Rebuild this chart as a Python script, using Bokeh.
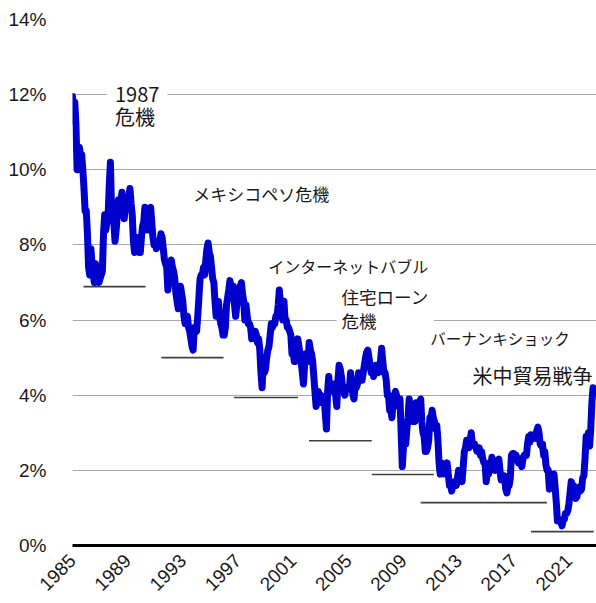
import numpy as np
from bokeh.plotting import figure
from bokeh.models import FixedTicker, Label, ColumnDataSource
from bokeh.embed import file_html
from bokeh.resources import INLINE

# ---- data (US 10-year yield, monthly, %) ----
start_year = 1985
yield_1985_1994 = [
    11.95, 11.3, 11.8, 11.2, 10.0, 10.3, 10.6, 10.4, 10.4, 10.0, 9.5, 8.9,
    8.9, 8.3, 7.4, 7.2, 7.9, 7.5, 7.2, 7.0, 7.5, 7.3, 7.1, 7.0,
    7.1, 7.2, 7.3, 8.3, 8.8, 8.4, 8.6, 8.8, 9.6, 10.2, 8.9, 9.0,
    8.6, 8.1, 8.4, 8.8, 9.2, 8.9, 9.1, 9.4, 9.0, 8.7, 9.0, 9.1,
    9.1, 9.3, 9.5, 9.1, 8.8, 8.1, 7.8, 8.2, 8.2, 7.9, 7.8, 7.8,
    8.2, 8.5, 8.6, 9.0, 8.6, 8.4, 8.4, 8.9, 9.0, 8.6, 8.2, 8.0,
    8.1, 7.9, 8.1, 8.0, 8.1, 8.3, 8.2, 7.9, 7.6, 7.5, 7.4, 6.8,
    7.1, 7.3, 7.6, 7.4, 7.3, 7.1, 6.7, 6.5, 6.3, 6.7, 6.9, 6.7,
    6.5, 6.1, 5.9, 5.9, 6.1, 5.8, 5.7, 5.5, 5.3, 5.2, 5.8, 5.8,
    5.7, 6.1, 6.6, 7.1, 7.2, 7.2, 7.4, 7.2, 7.6, 7.9, 8.05, 7.8,
]
yield_1995_2004 = [
    7.7, 7.4, 7.1, 7.0, 6.5, 6.1, 6.4, 6.5, 6.1, 5.9, 5.8, 5.6,
    5.6, 5.8, 6.4, 6.6, 6.8, 7.05, 6.9, 6.6, 6.9, 6.4, 6.1, 6.4,
    6.6, 6.5, 6.9, 7.0, 6.7, 6.5, 6.0, 6.4, 6.1, 5.9, 5.9, 5.8,
    5.5, 5.6, 5.6, 5.7, 5.6, 5.4, 5.5, 5.2, 4.6, 4.2, 4.9, 4.6,
    4.7, 5.0, 5.2, 5.3, 5.6, 5.9, 5.8, 5.9, 5.9, 6.1, 6.1, 6.4,
    6.8, 6.4, 6.2, 6.0, 6.5, 6.0, 6.0, 5.8, 5.8, 5.7, 5.6, 5.1,
    5.2, 4.9, 4.9, 5.2, 5.5, 5.3, 5.1, 4.9, 4.6, 4.3, 4.8, 5.1,
    5.0, 4.9, 5.4, 5.2, 5.1, 4.9, 4.5, 4.1, 3.7, 3.9, 4.1, 3.9,
    4.0, 3.8, 3.8, 3.95, 3.5, 3.1, 4.1, 4.5, 4.1, 4.3, 4.3, 4.3,
    4.1, 4.0, 3.7, 4.4, 4.8, 4.7, 4.5, 4.2, 4.1, 4.0, 4.2, 4.2,
]
yield_2005_2014 = [
    4.2, 4.2, 4.6, 4.3, 4.0, 3.9, 4.3, 4.2, 4.3, 4.6, 4.5, 4.4,
    4.4, 4.6, 4.8, 5.0, 5.15, 5.2, 5.0, 4.8, 4.6, 4.7, 4.5, 4.6,
    4.8, 4.6, 4.6, 4.7, 4.9, 5.25, 4.9, 4.6, 4.6, 4.4, 4.0, 4.0,
    3.6, 3.6, 3.4, 3.8, 4.0, 4.1, 4.0, 3.8, 3.7, 3.9, 3.0, 2.1,
    2.6, 3.0, 2.7, 3.1, 3.4, 3.9, 3.5, 3.5, 3.3, 3.4, 3.3, 3.8,
    3.6, 3.6, 3.8, 3.9, 3.3, 3.0, 2.9, 2.5, 2.5, 2.6, 2.8, 3.4,
    3.4, 3.6, 3.4, 3.3, 3.1, 3.2, 2.8, 2.2, 1.9, 2.2, 2.0, 1.9,
    1.9, 2.0, 2.2, 1.9, 1.6, 1.6, 1.45, 1.6, 1.7, 1.7, 1.6, 1.8,
    2.0, 1.9, 1.9, 1.7, 2.1, 2.5, 2.6, 2.8, 2.6, 2.6, 2.8, 3.0,
    2.7, 2.7, 2.7, 2.6, 2.5, 2.5, 2.6, 2.4, 2.5, 2.3, 2.2, 2.2,
]
yield_2015_2022 = [
    1.7, 2.0, 1.9, 2.0, 2.1, 2.35, 2.2, 2.2, 2.0, 2.15, 2.2, 2.3,
    2.0, 1.75, 1.8, 1.8, 1.85, 1.5, 1.4, 1.6, 1.6, 1.8, 2.4, 2.45,
    2.45, 2.4, 2.4, 2.3, 2.2, 2.3, 2.3, 2.1, 2.3, 2.4, 2.4, 2.4,
    2.7, 2.9, 2.75, 2.95, 2.85, 2.85, 2.95, 2.85, 3.05, 3.15, 3.0, 2.7,
    2.65, 2.7, 2.4, 2.5, 2.15, 2.0, 2.0, 1.5, 1.65, 1.7, 1.8, 1.9,
    1.55, 1.15, 0.65, 0.65, 0.65, 0.65, 0.52, 0.7, 0.7, 0.85, 0.85, 0.92,
    1.1, 1.4, 1.7, 1.6, 1.6, 1.45, 1.25, 1.3, 1.5, 1.55, 1.45, 1.5,
    1.8, 1.85, 2.3, 2.9, 2.85, 3.0, 2.65, 3.1, 3.8, 4.2,
]

x_tick_labels = ["1985", "1989", "1993", "1997", "2001", "2005", "2009", "2013", "2017", "2021"]
y_tick_values = [0, 2, 4, 6, 8, 10, 12, 14]
y_tick_labels = ["0%", "2%", "4%", "6%", "8%", "10%", "12%", "14%"]

# low-level reference bars (year from, year to, level %)
low_x0 = [1985.8, 1991.45, 1996.7, 2002.15, 2006.7, 2010.25, 2014.85, 2018.25]
low_x1 = [1990.3, 1995.95, 2001.35, 2006.7, 2011.2, 2014.85, 2019.4, 2022.8]
low_y = [6.89, 5.0, 3.94, 2.79, 1.89, 1.14, 1.14, 0.37]

# event annotations
event_texts = ["1987\n危機", "メキシコペソ危機", "インターネットバブル", "住宅ローン\n危機", "バーナンキショック", "米中貿易戦争"]

yields = yield_1985_1994 + yield_1995_2004 + yield_2005_2014 + yield_2015_2022
months = start_year + np.arange(len(yields)) / 12.0

p = figure(width=596, height=603, x_range=(1985, 2023), y_range=(0, 14),
           output_backend="svg", toolbar_location=None,
           min_border_left=72, min_border_right=0, min_border_top=19, min_border_bottom=58)
p.outline_line_color = None
p.background_fill_color = "white"
p.border_fill_color = "white"

p.xgrid.grid_line_color = None
p.ygrid.ticker = FixedTicker(ticks=y_tick_values)
p.ygrid.grid_line_color = "#a8a8a8"
p.ygrid.grid_line_width = 1

# axes
p.yaxis.ticker = FixedTicker(ticks=y_tick_values)
p.yaxis.major_label_overrides = {v: s for v, s in zip(y_tick_values, y_tick_labels)}
p.yaxis.axis_line_color = None
p.yaxis.major_tick_line_color = None
p.yaxis.minor_tick_line_color = None
p.yaxis.major_label_standoff = 20
p.yaxis.major_label_text_font = "Liberation Sans"
p.yaxis.major_label_text_font_size = "19px"
p.yaxis.major_label_text_color = "#1a1a1a"

x_tick_values = [int(s) for s in x_tick_labels]
p.xaxis.ticker = FixedTicker(ticks=x_tick_values)
p.xaxis.major_label_overrides = {v: s for v, s in zip(x_tick_values, x_tick_labels)}
p.xaxis.axis_line_color = "black"
p.xaxis.axis_line_width = 3
p.xaxis.major_tick_line_color = None
p.xaxis.minor_tick_line_color = None
p.xaxis.major_label_orientation = np.pi / 4
p.xaxis.major_label_standoff = 6
p.xaxis.major_label_text_font = "Liberation Sans"
p.xaxis.major_label_text_font_size = "19px"
p.xaxis.major_label_text_color = "#1a1a1a"

# reference bars
seg_src = ColumnDataSource(dict(x0=low_x0, x1=low_x1, y=low_y))
p.segment(x0="x0", y0="y", x1="x1", y1="y", source=seg_src, line_color="#404040", line_width=1.6)

# yield line
p.line(months, yields, line_color="#0000cd", line_width=7, line_join="round", line_cap="round")

# annotations (data coordinates): text, x, y, size, white box, padding, line height
jp = "Noto Sans CJK JP"
ann = [
    (event_texts[0], 1987.5, 11.72, "20px", True, 8, 0.8),
    (event_texts[1], 1993.75, 9.37, "17px", False, 0, 1.0),
    (event_texts[2], 1999.2, 7.43, "16px", False, 0, 1.0),
    (event_texts[3], 2004.15, 6.31, "17.5px", True, 5, 0.95),
    (event_texts[4], 2010.95, 5.51, "15.5px", False, 0, 1.0),
    (event_texts[5], 2014.0, 4.52, "20px", False, 0, 1.0),
]
for txt, xx, yy, fs, bg, pad, lh in ann:
    lab = Label(x=xx, y=yy, text=txt, text_font=jp, text_font_size=fs,
                text_color="#1a1a1a", text_align="left", text_baseline="middle",
                text_line_height=lh)
    if bg:
        lab.background_fill_color = "white"
        lab.padding = pad
    p.add_layout(lab)

open("out.html", "w").write(file_html(p, INLINE))
